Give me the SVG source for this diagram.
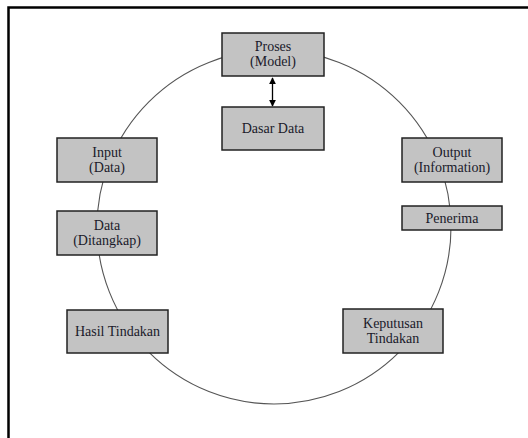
<svg xmlns="http://www.w3.org/2000/svg" width="528" height="438" viewBox="0 0 528 438">
  <style>
    .box { fill: #c3c3c3; stroke: #222; stroke-width: 1.5; }
    .lbl { font-size: 14px; fill: #1a1a2a; text-anchor: middle; }
    .ring { fill: none; stroke: #555; stroke-width: 1.1; }
    .frame { fill: none; stroke: #000; stroke-width: 2.5; }
    .link { stroke: #000; stroke-width: 1.3; fill: none; }
  </style>
  <defs>
    <marker id="head" viewBox="0 0 10 10" refX="9" refY="5" markerWidth="7" markerHeight="7" orient="auto-start-reverse" markerUnits="userSpaceOnUse">
      <path d="M0,0 L10,5 L0,10 z" fill="#000"/>
    </marker>
  </defs>

  <rect width="528" height="438" fill="#fff"/>
  <path class="frame" d="M8.5,438 L8.5,7.5 L528,7.5"/>

  <!-- cycle ring -->
  <circle class="ring" cx="274" cy="227" r="177"/>

  <g id="connectors">
    <line class="link" x1="272.5" y1="78" x2="272.5" y2="106" marker-start="url(#head)" marker-end="url(#head)"/>
  </g>

  <g font-family="Liberation Serif, DejaVu Serif, serif">
  <g id="proses">
    <rect class="box" x="222" y="33" width="102" height="43"/>
    <text class="lbl" x="273" y="51">Proses</text>
    <text class="lbl" x="273" y="66">(Model)</text>
  </g>

  <g id="dasar-data">
    <rect class="box" x="222" y="107" width="102" height="43"/>
    <text class="lbl" x="273" y="133">Dasar Data</text>
  </g>

  <g id="input">
    <rect class="box" x="57" y="138" width="100" height="44"/>
    <text class="lbl" x="107" y="156.5">Input</text>
    <text class="lbl" x="107" y="171.5">(Data)</text>
  </g>

  <g id="data-ditangkap">
    <rect class="box" x="57" y="211" width="100" height="44"/>
    <text class="lbl" x="107" y="229.5">Data</text>
    <text class="lbl" x="107" y="244.5">(Ditangkap)</text>
  </g>

  <g id="output">
    <rect class="box" x="402" y="138" width="100" height="44"/>
    <text class="lbl" x="452" y="156.5">Output</text>
    <text class="lbl" x="452" y="171.5">(Information)</text>
  </g>

  <g id="penerima">
    <rect class="box" x="402" y="206" width="100" height="24"/>
    <text class="lbl" x="452" y="222.5">Penerima</text>
  </g>

  <g id="hasil-tindakan">
    <rect class="box" x="67" y="310" width="101" height="43"/>
    <text class="lbl" x="117.5" y="336">Hasil Tindakan</text>
  </g>

  <g id="keputusan-tindakan">
    <rect class="box" x="343" y="309" width="100" height="44"/>
    <text class="lbl" x="393" y="327.5">Keputusan</text>
    <text class="lbl" x="393" y="342.5">Tindakan</text>
  </g>
  </g>
</svg>
